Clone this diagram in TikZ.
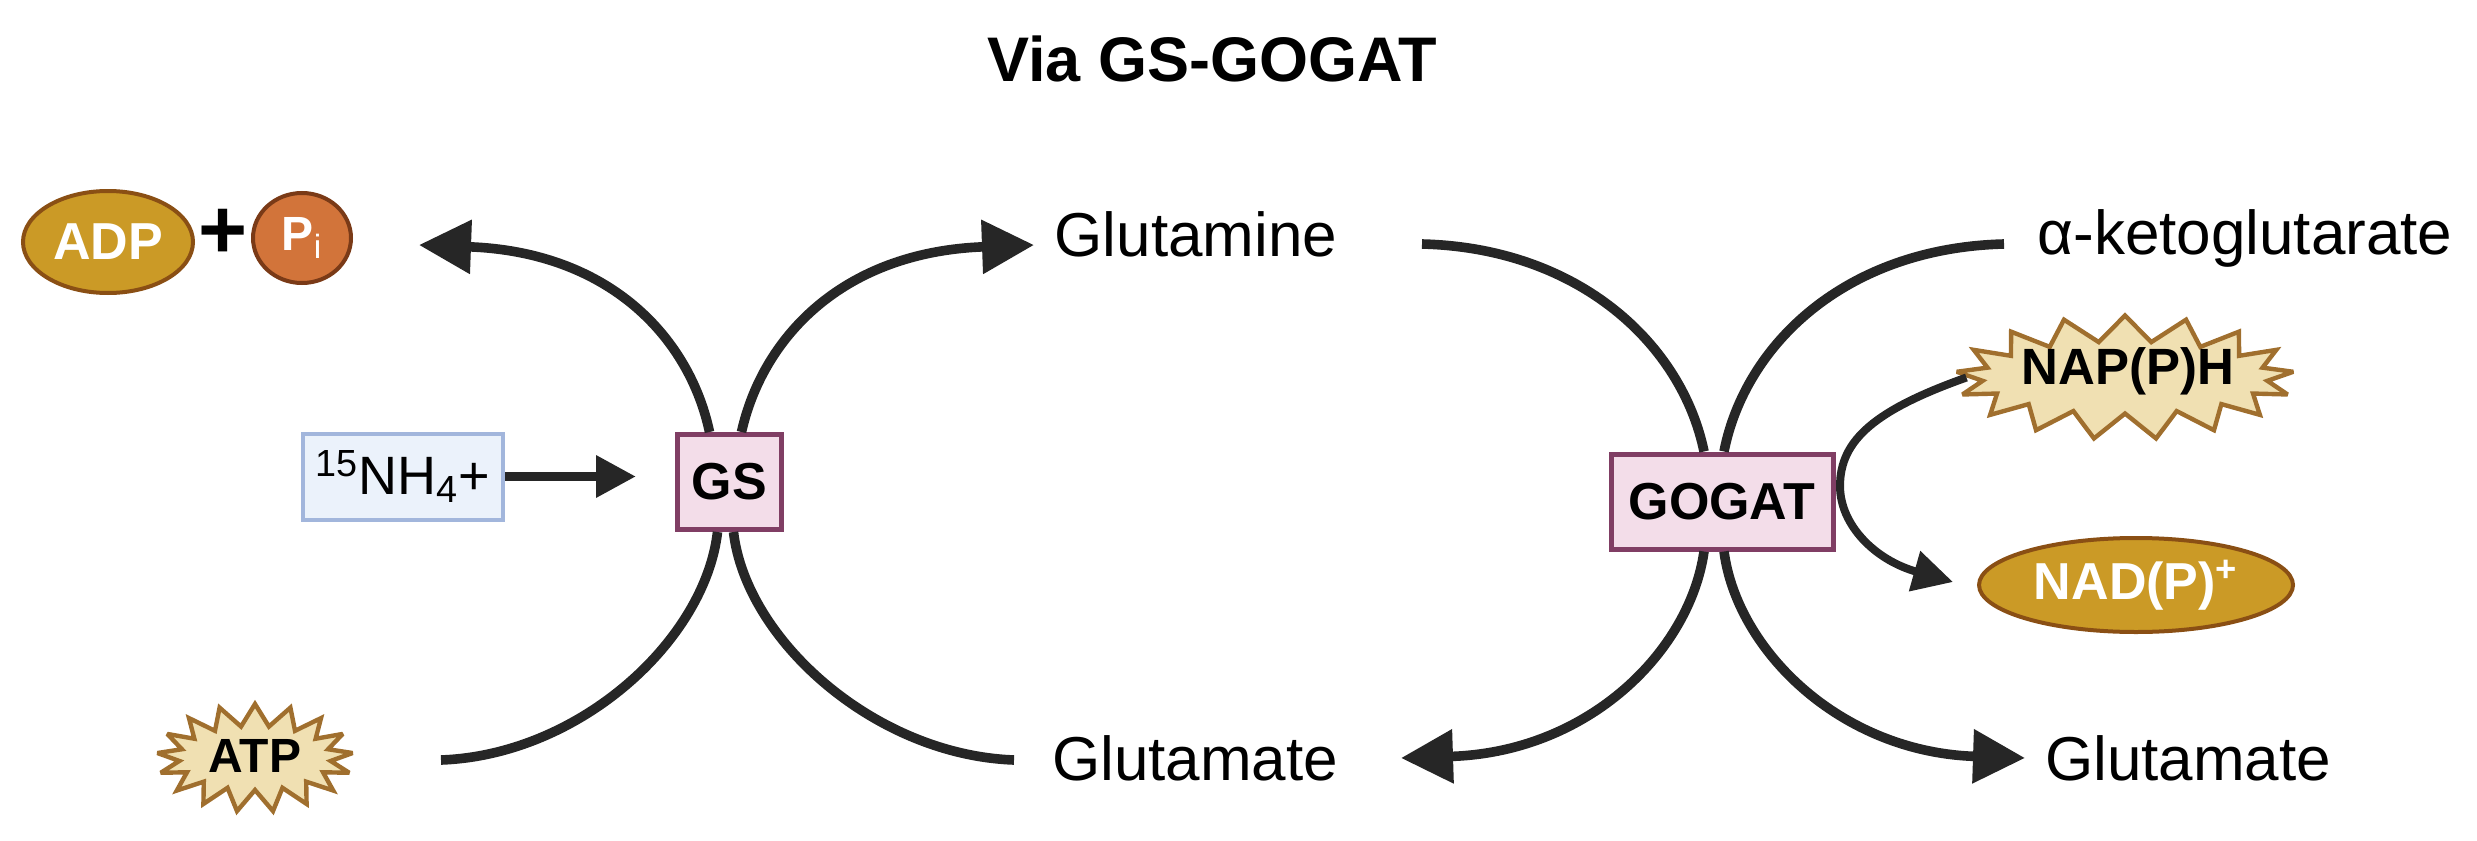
\documentclass[tikz,border=0pt]{standalone}
\usepackage{fontspec}
\setmainfont{Liberation Sans}
\usetikzlibrary{arrows.meta,shapes.geometric,shapes.symbols}
\definecolor{linegrey}{HTML}{262626}
\definecolor{adpfill}{HTML}{CB9A26}
\definecolor{adpline}{HTML}{8A4F14}
\definecolor{pifill}{HTML}{D2743A}
\definecolor{piline}{HTML}{7A3A17}
\definecolor{burstfill}{HTML}{F0E0B2}
\definecolor{burstline}{HTML}{A06F2E}
\definecolor{ionfill}{HTML}{EBF2FB}
\definecolor{ionline}{HTML}{A2B6DC}
\definecolor{enzfill}{HTML}{F3DDE9}
\definecolor{enzline}{HTML}{803E64}
\newcommand{\fsz}[1]{\fontsize{#1}{#1}\selectfont}
\tikzset{
  metab/.style={font=\fsz{31}, inner sep=0pt},
  enzyme/.style={draw=enzline, fill=enzfill, line width=2.5pt, inner sep=0pt, font=\fsz{26}\bfseries},
  cofactor/.style={ellipse, draw=adpline, fill=adpfill, line width=2pt, inner sep=0pt, text=white, font=\fsz{26}\bfseries},
  burst/.style={starburst, starburst points=17, random starburst=0, draw=burstline, fill=burstfill, line width=2.2pt, inner sep=0pt, miter limit=3},
  flux/.style={draw=linegrey, line width=4.8pt},
  fluxhead/.style={flux, -{Triangle[length=26pt,width=26pt]}}
}
\begin{document}
\begin{tikzpicture}[x=0.5pt,y=-0.5pt]
  \useasboundingbox (0,0) rectangle (2477,840);
  \node [font=\fsz{31.5}\bfseries, inner sep=0pt] (title) at (1212,59) {Via GS-GOGAT};
  % substrates and products
  \node [cofactor, minimum width=85pt, minimum height=51pt] (adp) at (108,242) {ADP};
  \node [font=\fsz{42}\bfseries, text=black, inner sep=0pt] (plusi) at (223,234) {+};
  \node [cofactor, draw=piline, fill=pifill, minimum width=49pt, minimum height=45pt, font=\fsz{24}\bfseries] (pi) at (302,238) {P\textsubscript{\mdseries i}};
  \node [metab] (gln) at (1196,234) {Glutamine};
  \node [metab] (akg) at (2245,238) {α-ketoglutarate};
  \node [metab] (glu) at (1195,758) {Glutamate};
  \node [metab] (gluii) at (2188,758) {Glutamate};
  \node [draw=ionline, fill=ionfill, line width=2pt, minimum width=100pt, minimum height=43pt, inner sep=0pt, font=\fsz{27}] (nh) at (403,476.5) {\textsuperscript{15}NH\textsubscript{4}+};
  \node [burst, starburst point height=11pt, minimum width=98pt, minimum height=54pt] (atp) at (255,758) {};
  \node [font=\fsz{24}\bfseries, inner sep=0pt] (atptext) at (255,756) {ATP};
  \node [burst, starburst point height=13pt, minimum width=169pt, minimum height=62pt] (naph) at (2125,377.5) {};
  \node [font=\fsz{25.5}\bfseries, inner sep=0pt] (naphtext) at (2128,371) {NAP(P)H};
  \node [cofactor, minimum width=157pt, minimum height=47pt] (nad) at (2136,585) {NAD(P)\textsuperscript{+}};
  % enzymes
  \node [enzyme, minimum width=52pt, minimum height=47.5pt] (gs) at (729.5,482) {GS};
  \node [enzyme, minimum width=111pt, minimum height=47.5pt] (gogat) at (1722,501.5) {GOGAT};
  % free ends
  \coordinate (gsa) at (419,245);
  \coordinate (gsb) at (1034,245);
  \coordinate (gsc) at (441,760);
  \coordinate (gsd) at (1014,760);
  \coordinate (goa) at (1422,244);
  \coordinate (gob) at (2004,244);
  \coordinate (goc) at (1401,758);
  \coordinate (god) at (2025,758);
  \coordinate (nhtip) at (636,476.5);
  \coordinate (nadtip) at (1953,582);
  % GS
  \draw [fluxhead] ([xshift=-10pt]gs.north) .. controls (690,340) and (612,252) .. (gsa);
  \draw [fluxhead] ([xshift=6pt]gs.north) .. controls (762,340) and (840,252) .. (gsb);
  \draw [flux] (gsc) .. controls (580,755) and (705,640) .. ([xshift=-6pt]gs.south);
  \draw [flux] (gsd) .. controls (875,755) and (746,640) .. ([xshift=2pt]gs.south);
  \draw [flux, -{Triangle[length=20pt,width=20pt]}] (nh) -- (nhtip);
  % GOGAT
  \draw [flux] (goa) .. controls (1580,248) and (1682,345) .. ([xshift=-9pt]gogat.north);
  \draw [flux] (gob) .. controls (1845,248) and (1745,345) .. ([xshift=1pt]gogat.north);
  \draw [fluxhead] ([xshift=-9pt]gogat.south) .. controls (1690,650) and (1590,752) .. (goc);
  \draw [fluxhead] ([xshift=1pt]gogat.south) .. controls (1737,650) and (1840,752) .. (god);
  \draw [flux, line width=4pt, -{Triangle[length=20pt,width=20pt]}] (naph.west) .. controls (1875,410) and (1840,440) .. (1840,486) .. controls (1840,525) and (1875,560) .. (nadtip);
\end{tikzpicture}
\end{document}
